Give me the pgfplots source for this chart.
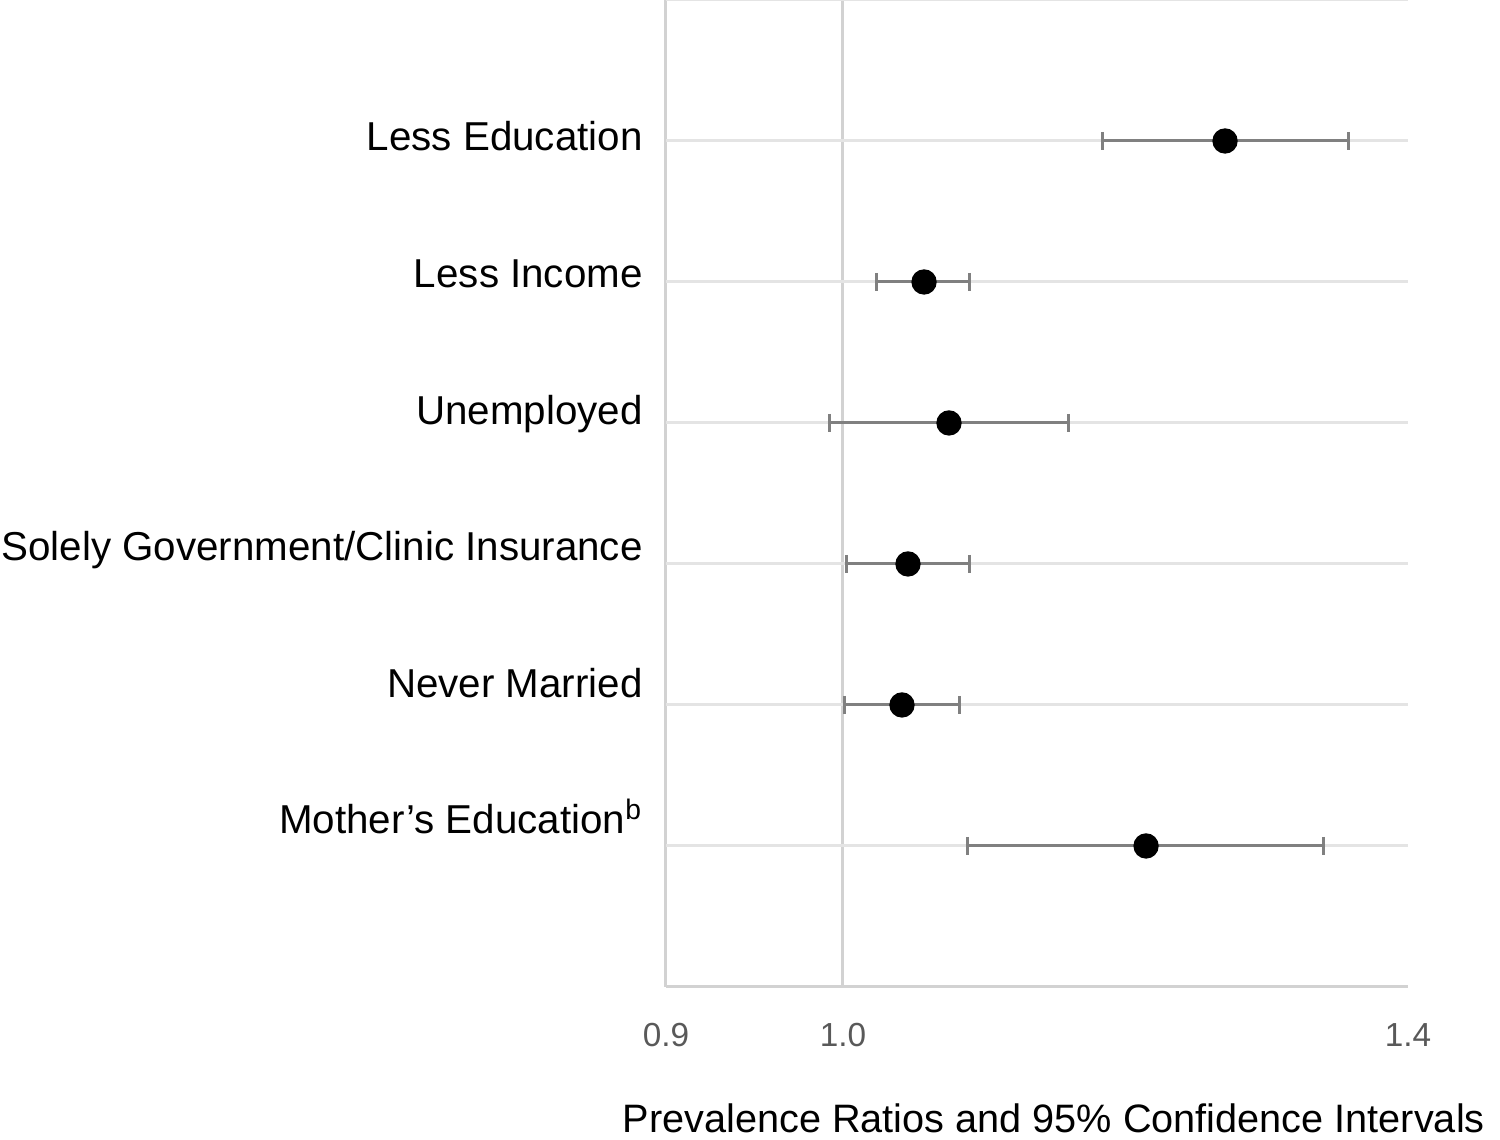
\documentclass[border=0pt]{standalone}
\usepackage{fontspec}
\setmainfont{Liberation Sans}
\usepackage{pgfplots}
\pgfplotsset{compat=1.18}

\definecolor{cibar}{HTML}{808080}
\definecolor{gridc}{HTML}{E4E4E4}
\definecolor{axisc}{HTML}{D2D2D2}
\definecolor{tickc}{HTML}{595959}

% 1 px of the reference = 0.3pt
\pgfplotsset{ci/.style={cibar, line width=0.9pt, mark=|, mark size=2.7pt,
  mark options={solid, line width=0.9pt}, forget plot}}

\begin{document}
\begin{tikzpicture}
\begin{axis}[
  name=ax,
  scale only axis,
  width=222.6pt, height=296.1pt,
  xmode=log,
  xmin=0.9, xmax=1.4, ymin=0, ymax=7,
  xtick={0.9,1.0,1.4},
  xticklabels={0.9,1.0,1.4},
  extra x ticks={0.9,1.0},
  extra x tick labels={},
  extra x tick style={grid=major, major grid style={axisc, line width=0.9pt}},
  ytick={1.085,2.054,3.023,3.991,4.960,5.929},
  yticklabels={Mother’s Education\textsuperscript{b}, Never Married,
    Solely Government/Clinic Insurance, Unemployed, Less Income, Less Education},
  extra y ticks={1,2,3,4,5,6,7},
  extra y tick labels={},
  extra y tick style={grid=major, major grid style={gridc, line width=0.9pt}},
  major tick length=0pt,
  axis line style={draw=none},
  xticklabel style={anchor=base, yshift=-18pt, text=tickc,
    font=\fontsize{10}{12}\selectfont},
  yticklabel style={anchor=base east, inner sep=0pt, xshift=-6.8pt,
    font=\fontsize{12.1}{14}\selectfont},
  /pgf/number format/assume math mode=true,
  clip=false,
]
% bottom axis line
\addplot[axisc, line width=0.9pt, forget plot] coordinates {(0.9,0) (1.4,0)};

% 95% confidence intervals
\addplot[ci] coordinates {(1.167,6) (1.351,6)};
\addplot[ci] coordinates {(1.0205,5) (1.0786,5)};
\addplot[ci] coordinates {(0.9918,4) (1.1434,4)};
\addplot[ci] coordinates {(1.0024,3) (1.0780,3)};
\addplot[ci] coordinates {(1.0007,2) (1.0716,2)};
\addplot[ci] coordinates {(1.0773,1) (1.3317,1)};

% prevalence ratios
\addplot[only marks, mark=*, mark size=3.6pt, black] coordinates {
  (1.2555,6) (1.0495,5) (1.0652,4) (1.0395,3) (1.0358,2) (1.1978,1)};

\node[anchor=base west, yshift=-43.8pt, inner sep=0pt, font=\fontsize{11.9}{14}\selectfont]
  at (rel axis cs:-0.0593,0) {Prevalence Ratios and 95\% Confidence Intervals};
\end{axis}
\pgfresetboundingbox
\path ([shift={(-199.8pt,-45.9pt)}]ax.south west) rectangle ([shift={(27.6pt,0pt)}]ax.north east);
\end{tikzpicture}
\end{document}
